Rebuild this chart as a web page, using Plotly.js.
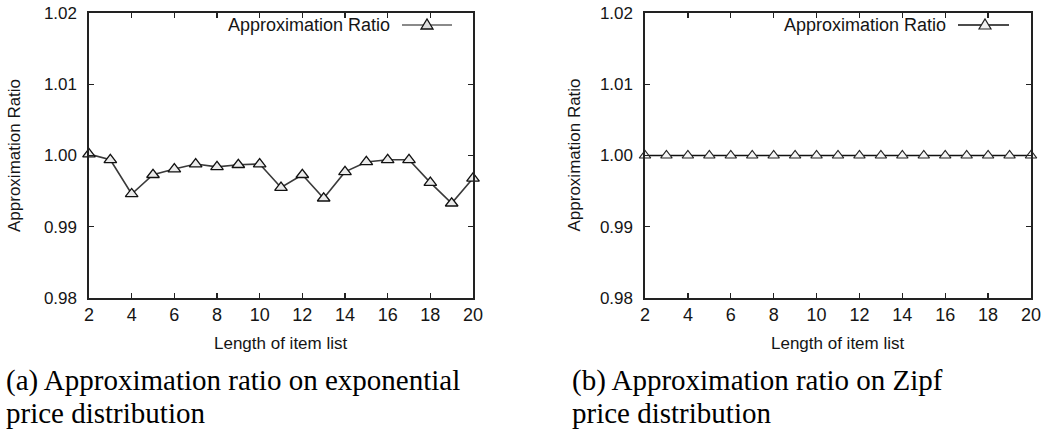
<!DOCTYPE html>
<html>
<head>
<meta charset="utf-8">
<script src="https://cdn.plot.ly/plotly-3.0.1.min.js"></script>
<style>
  html, body { margin: 0; padding: 0; background: #fff; }
  #chart { width: 1043px; height: 432px; }
</style>
</head>
<body>
<div id="chart"></div>
<script>
// ---- data ----
const itemListLength = [2, 3, 4, 5, 6, 7, 8, 9, 10, 11, 12, 13, 14, 15, 16, 17, 18, 19, 20];
const ratioExponential = [1.0002, 0.9994, 0.9946, 0.9973, 0.9981, 0.9988, 0.9984, 0.9987, 0.9988, 0.9955, 0.9973, 0.9940, 0.9977, 0.9991, 0.9994, 0.9994, 0.9962, 0.9933, 0.9968];
const ratioZipf = [1.0, 1.0, 1.0, 1.0, 1.0, 1.0, 1.0, 1.0, 1.0, 1.0, 1.0, 1.0, 1.0, 1.0, 1.0, 1.0, 1.0, 1.0, 1.0];
const xTickVals = [2, 4, 6, 8, 10, 12, 14, 16, 18, 20];
const yTickVals = [0.98, 0.99, 1.00, 1.01, 1.02];
const yTickText = ["0.98", "0.99", "1.00", "1.01", "1.02"];
const seriesName = "Approximation Ratio";
const xTitle = "Length of item list";
const yTitle = "Approximation Ratio";
const captionA = ["(a) Approximation ratio on exponential", "price distribution"];
const captionB = ["(b) Approximation ratio on Zipf", "price distribution"];

// ---- layout helpers ----
const W = 1043, H = 432;
const px = v => v / W;
const py = v => 1 - v / H;
const sans = "Liberation Sans, Arial, sans-serif";
const serif = "Liberation Serif, Times New Roman, serif";
const txt = "#151515";

const plotA = {x0: 89, x1: 473, y0: 13, y1: 298};
const plotB = {x0: 645, x1: 1031, y0: 13, y1: 298};

function xaxisFor(p, anchor) {
  return {
    domain: [px(p.x0), px(p.x1)], anchor: anchor,
    range: [2, 20], tickvals: xTickVals, ticks: "inside", ticklen: 5,
    tickwidth: 1.3, tickcolor: "#222", mirror: "ticks", showline: true,
    linecolor: "#222", linewidth: 1.6, showgrid: false, zeroline: false,
    tickfont: {family: sans, size: 18, color: txt}, ticklabelstandoff: 0
  };
}
function yaxisFor(p, anchor) {
  return {
    domain: [py(p.y1), py(p.y0)], anchor: anchor,
    range: [0.98, 1.02], tickvals: yTickVals, ticktext: yTickText,
    ticks: "inside", ticklen: 5, tickwidth: 1.3, tickcolor: "#222",
    mirror: "ticks", showline: true, linecolor: "#222", linewidth: 1.6,
    showgrid: false, zeroline: false,
    tickfont: {family: sans, size: 17, color: txt}, ticklabelstandoff: 7
  };
}

const traces = [
  {
    x: itemListLength, y: ratioExponential, xaxis: "x", yaxis: "y",
    type: "scatter", mode: "lines+markers", name: seriesName, cliponaxis: false,
    line: {color: "#3a3a3a", width: 1.6},
    marker: {symbol: "triangle-up", size: 11, color: "rgba(235,235,235,1)", line: {color: "#111", width: 1.3}},
    showlegend: false
  },
  {
    x: itemListLength, y: ratioZipf, xaxis: "x2", yaxis: "y2",
    type: "scatter", mode: "lines+markers", name: seriesName, cliponaxis: false,
    line: {color: "#111", width: 1.6},
    marker: {symbol: "triangle-up", size: 10, color: "rgba(245,245,245,1)", line: {color: "#222", width: 1.2}},
    showlegend: false
  }
];

function tri(cx, cy, w, h) {
  return `M ${px(cx - w/2)} ${py(cy + h/2)} L ${px(cx + w/2)} ${py(cy + h/2)} L ${px(cx)} ${py(cy - h/2)} Z`;
}

const shapes = [
  {type: "line", xref: "paper", yref: "paper", x0: px(402), x1: px(452), y0: py(25), y1: py(25), line: {color: "#8a8a8a", width: 1.8}},
  {type: "path", xref: "paper", yref: "paper", path: tri(427, 24, 12, 10), fillcolor: "#ddd", line: {color: "#111", width: 1.3}},
  {type: "line", xref: "paper", yref: "paper", x0: px(958), x1: px(1009), y0: py(25), y1: py(25), line: {color: "#111", width: 1.6}},
  {type: "path", xref: "paper", yref: "paper", path: tri(985, 24, 12, 10), fillcolor: "#f0f0f0", line: {color: "#222", width: 1.2}}
];

function ann(text, x, y, xanchor, size, family, extra) {
  return Object.assign({text: text, x: px(x), y: py(y), xref: "paper", yref: "paper",
    xanchor: xanchor, yanchor: "middle", showarrow: false,
    font: {family: family, size: size, color: txt}}, extra || {});
}

const capFont = {family: serif, size: 29, color: "#000"};
const annotations = [
  ann(seriesName, 392, 25, "right", 18, sans),
  ann(seriesName, 948, 25, "right", 18, sans),
  ann(xTitle, (plotA.x0 + plotA.x1) / 2, 343.5, "center", 17, sans),
  ann(xTitle, (plotB.x0 + plotB.x1) / 2, 343.5, "center", 17, sans),
  ann(yTitle, 14.5, 155.5, "center", 17, sans, {textangle: -90}),
  ann(yTitle, 574, 155.5, "center", 17, sans, {textangle: -90}),
  ann(captionA[0], 4, 380, "left", 29, serif, {font: capFont}),
  ann(captionA[1], 4, 413, "left", 29, serif, {font: capFont}),
  ann(captionB[0], 570, 380, "left", 29, serif, {font: capFont}),
  ann(captionB[1], 570, 413, "left", 29, serif, {font: capFont})
];

const layout = {
  width: W, height: H,
  margin: {l: 0, r: 0, t: 0, b: 0},
  paper_bgcolor: "#fff", plot_bgcolor: "#fff",
  showlegend: false,
  xaxis: xaxisFor(plotA, "y"),
  yaxis: yaxisFor(plotA, "x"),
  xaxis2: xaxisFor(plotB, "y2"),
  yaxis2: yaxisFor(plotB, "x2"),
  shapes: shapes,
  annotations: annotations
};

Plotly.newPlot("chart", traces, layout, {staticPlot: true, displayModeBar: false});
</script>
</body>
</html>
